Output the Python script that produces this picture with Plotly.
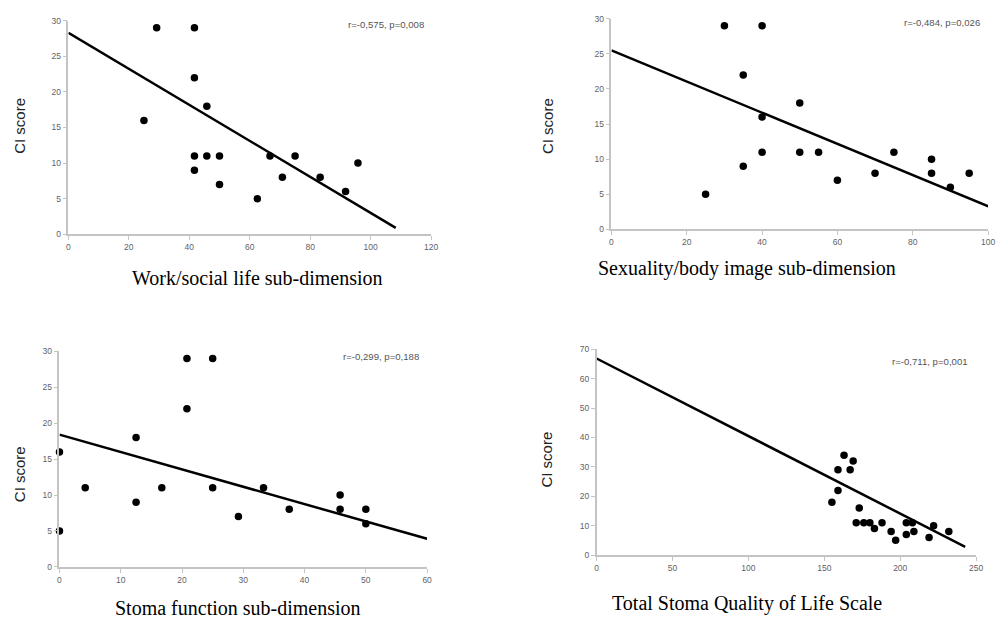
import plotly.graph_objects as go

# ---- Data ----
# Panel 1: Work/social life sub-dimension
work_x = [29.2, 41.7, 41.7, 45.8, 25.0, 41.7, 41.7, 45.8, 50.0, 50.0, 62.5, 66.7, 70.8, 75.0, 83.3, 91.7, 95.8]
work_y = [29, 29, 22, 18, 16, 11, 9, 11, 11, 7, 5, 11, 8, 11, 8, 6, 10]
work_trend_x = [0, 108.3]
work_trend_y = [28.3, 0.9]
work_stat = "r=-0,575, p=0,008"

# Panel 2: Sexuality/body image sub-dimension
sex_x = [30, 40, 35, 40, 50, 40, 35, 25, 50, 55, 60, 70, 75, 85, 85, 90, 95]
sex_y = [29, 29, 22, 16, 18, 11, 9, 5, 11, 11, 7, 8, 11, 10, 8, 6, 8]
sex_trend_x = [0, 100.4]
sex_trend_y = [25.5, 3.2]
sex_stat = "r=-0,484, p=0,026"

# Panel 3: Stoma function sub-dimension
stoma_x = [0, 0, 4.2, 12.5, 12.5, 16.7, 20.8, 20.8, 25.0, 25.0, 29.2, 33.3, 37.5, 45.8, 45.8, 50.0, 50.0]
stoma_y = [16, 5, 11, 18, 9, 11, 29, 22, 29, 11, 7, 11, 8, 10, 8, 8, 6]
stoma_trend_x = [0, 60]
stoma_trend_y = [18.4, 3.9]
stoma_stat = "r=-0,299, p=0,188"

# Panel 4: Total Stoma Quality of Life Scale
total_x = [155, 159, 159, 163, 167, 169, 171, 173, 176, 180, 183, 188, 194, 197, 204, 204, 208, 209, 219, 222, 232]
total_y = [18, 29, 22, 34, 29, 32, 11, 16, 11, 11, 9, 11, 8, 5, 11, 7, 11, 8, 6, 10, 8]
total_trend_x = [0, 242.8]
total_trend_y = [66.9, 2.8]
total_stat = "r=-0,711, p=0,001"

x_titles = ["Work/social life sub-dimension", "Sexuality/body image sub-dimension",
            "Stoma function sub-dimension", "Total Stoma Quality of Life Scale"]
y_title = "CI score"

# ---- Layout geometry (pixels in a 998x623 page) ----
W, H = 998, 623
# (left, right, top, bottom) pixel boxes of each plot area
boxes = [(67, 433, 16, 233), (615, 995, 14, 228), (58, 429, 352, 571), (600, 983, 350, 559)]
x_ranges = [[0, 120], [0, 100], [0, 60], [0, 250]]
y_ranges = [[0, 30], [0, 30], [0, 30], [0, 70]]
x_dticks = [20, 20, 10, 50]
y_dticks = [5, 5, 5, 10]
xtitle_pos = [(258, 277), (752, 268), (238, 613), (752, 608)]
ytitle_pos = [(17, 123), (550, 123), (17, 477), (550, 462)]
stat_pos = [(428, 20), (989, 18), (423, 357), (977, 362)]

panels = [
    (work_x, work_y, work_trend_x, work_trend_y, work_stat),
    (sex_x, sex_y, sex_trend_x, sex_trend_y, sex_stat),
    (stoma_x, stoma_y, stoma_trend_x, stoma_trend_y, stoma_stat),
    (total_x, total_y, total_trend_x, total_trend_y, total_stat),
]

fig = go.Figure()
layout = dict(
    autosize=True,
    margin=dict(l=0, r=0, t=0, b=0, pad=0),
    paper_bgcolor="white", plot_bgcolor="white",
    showlegend=False,
    annotations=[],
)

axis_gray = "#c4c4c4"
tick_font = dict(family="Liberation Sans, Arial, sans-serif", size=8.5, color="#5f5f6a")

for i, (px, py, tx, ty, stat) in enumerate(panels):
    n = "" if i == 0 else str(i + 1)
    xa, ya = "x" + n, "y" + n
    fig.add_trace(go.Scatter(x=tx, y=ty, mode="lines", xaxis=xa, yaxis=ya,
                             line=dict(color="black", width=2.5), hoverinfo="skip"))
    fig.add_trace(go.Scatter(x=px, y=py, mode="markers", xaxis=xa, yaxis=ya, cliponaxis=False,
                             marker=dict(color="black", size=7.5, line=dict(width=0))))
    l, r, t, b = boxes[i]
    layout["xaxis" + n] = dict(
        domain=[l / W, r / W], range=x_ranges[i], dtick=x_dticks[i], tick0=0,
        anchor=ya, showgrid=False, zeroline=False, showline=True, linecolor=axis_gray,
        linewidth=1.5, ticks="outside", ticklen=4, tickcolor=axis_gray, tickwidth=1.2,
        tickfont=tick_font, fixedrange=True,
    )
    layout["yaxis" + n] = dict(
        domain=[1 - b / H, 1 - t / H], range=y_ranges[i], dtick=y_dticks[i], tick0=0,
        anchor=xa, showgrid=False, zeroline=False, showline=True, linecolor=axis_gray,
        linewidth=1.5, ticks="outside", ticklen=4, tickcolor=axis_gray, tickwidth=1.2,
        tickfont=tick_font, fixedrange=True,
    )
    xt = xtitle_pos[i]
    layout["annotations"].append(dict(
        text=x_titles[i], xref="paper", yref="paper", x=xt[0] / W, y=1 - xt[1] / H,
        xanchor="center", yanchor="middle", showarrow=False,
        font=dict(family="Liberation Serif, Times New Roman, serif", size=20, color="black")))
    yt = ytitle_pos[i]
    layout["annotations"].append(dict(
        text=y_title, xref="paper", yref="paper", x=yt[0] / W, y=1 - yt[1] / H,
        xanchor="center", yanchor="middle", showarrow=False, textangle=-90,
        font=dict(family="Liberation Sans, Arial, sans-serif", size=15, color="#222222")))
    sp = stat_pos[i]
    layout["annotations"].append(dict(
        text=stat, xref="paper", yref="paper", x=sp[0] / W, y=1 - sp[1] / H,
        xanchor="right", yanchor="middle", showarrow=False,
        font=dict(family="Liberation Sans, Arial, sans-serif", size=9.6, color="#555555")))

fig.update_layout(**layout)
fig.write_html(
    "out.html",
    default_width="100vw",
    default_height="100vh",
    config={"displayModeBar": False, "responsive": True},
    post_script="document.documentElement.style.overflow='hidden';document.body.style.margin='0px';document.body.style.overflow='hidden';",
)
